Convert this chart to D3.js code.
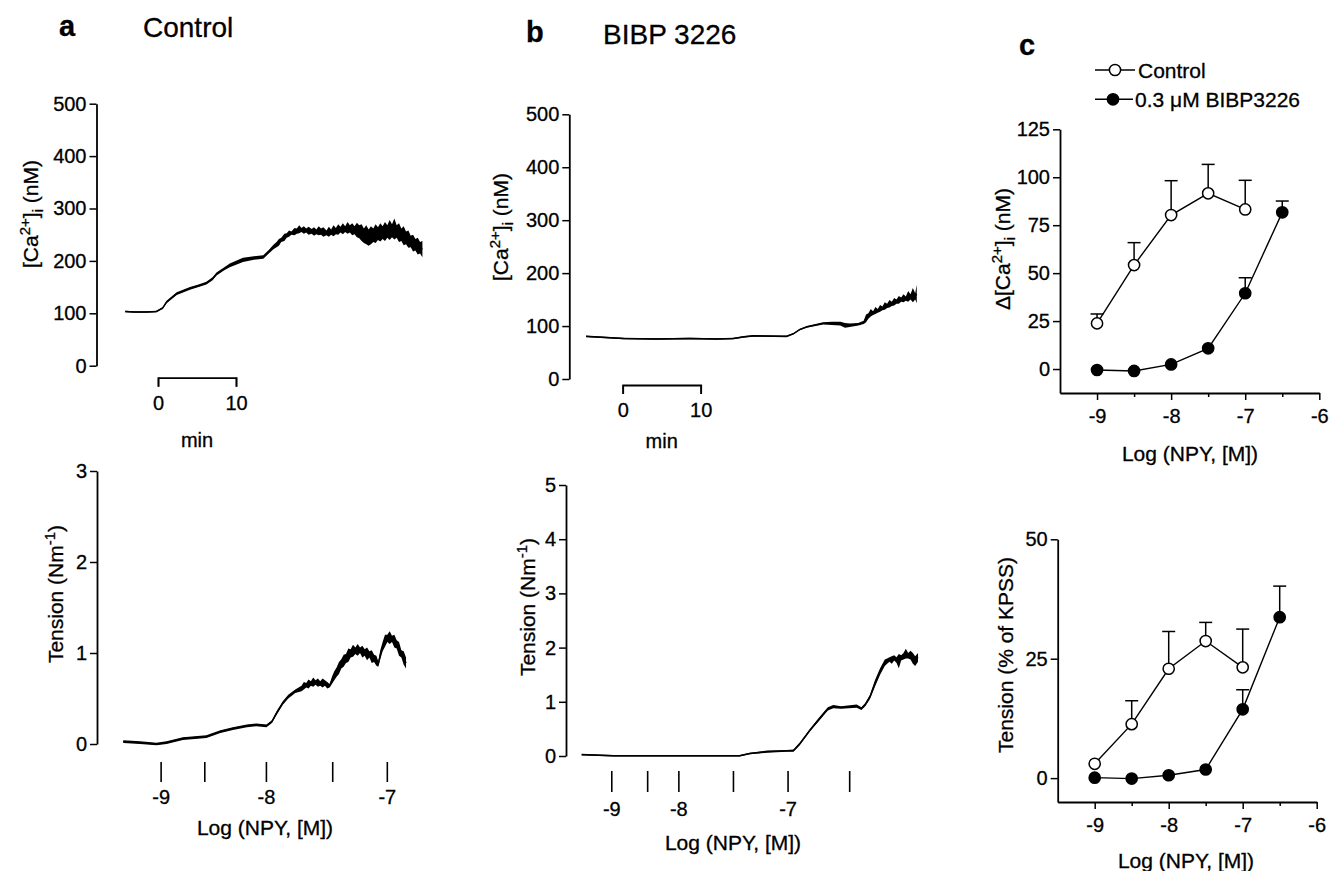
<!DOCTYPE html>
<html><head><meta charset="utf-8">
<script src="https://cdn.jsdelivr.net/npm/d3@7"></script>
<style>
html,body{margin:0;padding:0;background:#fff;}
svg{display:block;}
svg text{stroke:#000;stroke-width:0.3px;}
</style></head><body>
<svg id="fig" width="1329" height="871"></svg>
<script>
// ================= DATA =================
// Traces: [time (min, 0 = first NPY addition), lower noise envelope, upper noise envelope]
const caTraceA = [[-4.2,102,105],[-3.0,101,104],[-1.5,101,104],[-0.2,102,105],[0.6,108,112],[1.1,119,124],[2.4,135,140],[4.1,145,150],[5.2,150,155],[6.2,155,160],[7.0,163,169],[7.5,172,178],[8.5,182,188],[9.2,188,195],[10.9,198,206],[12.3,202,209],[13.5,204,211],[14.2,214,221],
 [14.8,222,231],[15.2,226,236],[15.5,229,242],[15.8,236,244],[16.2,238,252],[16.5,244,253],[16.8,246,258],[17.1,250,256],[17.5,249,263],[17.8,252,262],[18.1,253,268],[18.4,255,263],[18.7,252,266],[19.0,254,262],[19.3,250,265],[19.7,252,261],[20.0,248,264],[20.3,251,260],[20.6,249,266],[20.9,250,262],[21.2,246,264],[21.6,249,258],[21.9,246,265],[22.2,250,260],[22.5,247,268],[22.8,251,263],[23.1,250,270],[23.4,254,265],[23.7,251,272],[24.0,255,266],[24.3,252,274],[24.6,254,268],[24.9,249,272],[25.2,251,266],[25.5,245,273],[25.8,243,268],[26.1,238,270],[26.4,234,262],[26.7,232,268],[27.0,229,260],[27.3,232,266],[27.6,236,262],[27.9,234,270],[28.2,240,264],[28.5,237,272],[28.8,242,266],[29.1,238,274],[29.4,244,268],[29.7,240,278],[30.0,245,270],[30.3,241,281],[30.6,244,268],[30.9,236,272],[31.2,238,262],[31.5,230,266],[31.8,232,256],[32.1,225,258],[32.4,226,248],[32.7,218,250],[33.0,220,242],[33.3,212,244],[33.6,214,236],[33.9,207,238]];
const tensionTraceA = [[-4.45,0.01,0.04],[-2.3,0.0,0.03],[-0.2,-0.015,0.015],[1.1,0.0,0.03],[3.2,0.045,0.075],[6.2,0.065,0.095],[8.0,0.12,0.15],[9.6,0.155,0.185],[11.4,0.185,0.215],[12.6,0.195,0.225],[13.9,0.185,0.215],[14.6,0.23,0.26],[15.2,0.32,0.36],[16.0,0.43,0.47],[16.7,0.5,0.54],[17.6,0.56,0.6],
 [18.4,0.58,0.64],[18.7,0.6,0.68],[19.0,0.62,0.67],[19.3,0.61,0.71],[19.6,0.64,0.69],[19.9,0.63,0.73],[20.2,0.65,0.7],[20.5,0.63,0.72],[20.8,0.64,0.69],[21.1,0.62,0.72],[21.4,0.64,0.7],[21.7,0.61,0.68],[22.0,0.62,0.66],[22.3,0.66,0.74],[22.6,0.7,0.8],[22.9,0.74,0.84],[23.2,0.77,0.9],[23.5,0.83,0.93],[23.8,0.85,0.98],[24.1,0.89,0.99],[24.4,0.9,1.05],[24.7,0.95,1.04],[25.0,0.96,1.09],[25.3,0.99,1.06],[25.6,0.97,1.1],[25.9,1.0,1.06],[26.2,0.95,1.08],[26.5,0.97,1.04],[26.8,0.92,1.06],[27.1,0.95,1.02],[27.4,0.89,1.03],[27.7,0.9,0.98],[28.0,0.86,0.97],[28.24,0.85,0.91],[28.5,0.93,1.03],[28.8,1.02,1.12],[29.1,1.07,1.2],[29.4,1.12,1.2],[29.7,1.1,1.24],[30.0,1.12,1.19],[30.3,1.06,1.2],[30.6,1.05,1.14],[30.9,0.97,1.12],[31.2,0.95,1.03],[31.5,0.87,1.02],[31.8,0.83,0.95]];
const npyMarksA = [0.4, 6.0, 13.9, 22.4, 29.4];
const npyLabelsA = ["-9", "", "-8", "", "-7"];

const caTraceB = [[-4.7,79,82],[0.1,75,78],[4.4,74,77],[8.6,75,78],[12.0,74,77],[14.2,75,78],[15.5,78,81],[16.7,80,83],[21.0,79,82],[21.9,84,87],[22.7,92,95],[23.6,97,100],[25.7,103,107],[26.8,102,108],[27.9,101,108],[28.5,97,106],[29.1,98,105],[30.2,101,106],
 [30.9,104,110],[31.2,107,122],[31.5,114,124],[31.8,118,132],[32.1,121,128],[32.4,123,136],[32.7,125,132],[33.0,127,140],[33.3,130,137],[33.6,131,145],[33.9,134,142],[34.2,135,149],[34.5,138,146],[34.8,139,153],[35.1,142,150],[35.4,142,157],[35.7,146,154],[36.0,145,160],[36.3,148,156],[36.6,146,166],[36.9,150,160],[37.2,145,172],[37.5,150,162],[37.7,143,178]];
const tensionTraceB = [[-5.26,0.01,0.04],[-1.2,-0.01,0.02],[6.5,-0.01,0.02],[15.0,-0.01,0.02],[16.3,0.03,0.06],[18.5,0.06,0.1],[21.0,0.08,0.11],[21.9,0.08,0.12],[22.7,0.2,0.25],[24.0,0.45,0.5],[25.0,0.62,0.68],[25.7,0.74,0.8],[26.3,0.84,0.9],[27.0,0.88,0.94],[28.0,0.87,0.92],[30.0,0.89,0.95],[30.6,0.85,0.9],[31.1,0.92,0.98],[31.7,1.05,1.13],[32.35,1.28,1.4],[33.0,1.5,1.62],
 [33.6,1.66,1.78],[33.9,1.7,1.8],[34.2,1.74,1.82],[34.5,1.7,1.84],[34.8,1.76,1.86],[35.1,1.72,1.82],[35.4,1.62,1.88],[35.7,1.76,1.86],[36.0,1.78,1.9],[36.3,1.8,1.98],[36.6,1.8,1.9],[36.9,1.78,1.94],[37.2,1.7,1.9],[37.5,1.66,1.84],[37.86,1.74,1.9]];
const npyMarksB = [-1.4, 3.2, 7.2, 14.2, 21.2, 29.1];
const npyLabelsB = ["-9", "", "-8", "", "-7", ""];

// Panel c: concentration-response (mean and SEM)
const logDose = [-9, -8.5, -8, -7.5, -7, -6.5];
const caControl = [23.8, 54.2, 80.3, 91.6, 83.2];
const caControlSem = [4.9, 11.7, 17.9, 15.1, 15.2];
const caBibp = [-0.5, -1.0, 2.4, 10.8, 39.5, 81.7];
const caBibpSem = [0, 0, 0, 0, 8.1, 5.9];
const tenControl = [3.0, 11.3, 22.9, 28.7, 23.2];
const tenControlSem = [0, 4.9, 7.8, 3.9, 8.0];
const tenBibp = [0.1, -0.1, 0.6, 1.8, 14.4, 33.7];
const tenBibpSem = [0, 0, 0, 0, 4.1, 6.5];

// Tick values
const caTicks = [0, 100, 200, 300, 400, 500];
const tensionTicksA = [0, 1, 2, 3];
const tensionTicksB = [0, 1, 2, 3, 4, 5];
const scaleBarTicks = [0, 10];
const caTicksC = [0, 25, 50, 75, 100, 125];
const tenTicksC = [0, 25, 50];
const logTicks = [-9, -8, -7, -6];
const logMinorTicks = [-8.5, -7.5, -6.5];

// ================= DRAWING =================
const FONT = '"Liberation Sans", Arial, Helvetica, sans-serif';
const svg = d3.select("#fig").attr("font-family", FONT);
const fmt = d => String(d);

function styleAxis(g, fs) {
  g.attr("font-family", FONT).attr("font-size", fs || 20);
  g.selectAll("path.domain").attr("stroke", "#000").attr("stroke-width", 1.8);
  g.selectAll(".tick line").attr("stroke", "#000").attr("stroke-width", 1.5);
  g.selectAll(".tick text").attr("fill", "#000");
}
function trace(data, x, y) {
  const g = svg.append("g");
  g.append("path").datum(data)
    .attr("d", d3.area().x(d => x(d[0])).y0(d => y(d[1])).y1(d => y(d[2])))
    .attr("fill", "#000");
  g.append("path").datum(data)
    .attr("d", d3.line().x(d => x(d[0])).y(d => y((d[1] + d[2]) / 2)))
    .attr("fill", "none").attr("stroke", "#000").attr("stroke-width", 1.4);
}
function rotLabel(x, y, parts, fs) {
  const t = svg.append("text").attr("transform", `translate(${x},${y}) rotate(-90)`)
    .attr("text-anchor", "middle").attr("font-size", fs).attr("fill", "#000");
  let cur = 0;
  parts.forEach(p => {
    const sh = p.s || 0;
    t.append("tspan").attr("dy", sh - cur).attr("font-size", p.f || fs).text(p.t);
    cur = sh;
  });
}
function text(x, y, s, fs, opts) {
  opts = opts || {};
  return svg.append("text").attr("x", x).attr("y", y).attr("font-size", fs)
    .attr("font-weight", opts.bold ? "bold" : "normal")
    .attr("text-anchor", opts.anchor || "start").attr("fill", "#000").text(s);
}
function markers(x, marks, labels, y1, y2, ly) {
  const g = svg.append("g");
  marks.forEach((m, i) => {
    g.append("line").attr("x1", x(m)).attr("x2", x(m)).attr("y1", y1).attr("y2", y2)
      .attr("stroke", "#000").attr("stroke-width", 1.6);
    if (labels[i]) text(x(m), ly, labels[i], 20, { anchor: "middle" });
  });
}
const caParts = (delta) => [
  { t: (delta ? "\u0394" : "") + "[Ca" }, { t: "2+", s: -8, f: 15 }, { t: "]" }, { t: "i", s: 5, f: 15 }, { t: " (nM)" }
];
const tensionParts = [{ t: "Tension (Nm" }, { t: "-1", s: -8, f: 15 }, { t: ")" }];

// ---------- Panel a ----------
text(59, 36, "a", 29, { bold: true });
text(143, 37, "Control", 28);

const xA = d3.scaleLinear().domain([0, 10]).range([158, 236]);
const yCaA = d3.scaleLinear().domain([0, 500]).range([365.7, 103.7]);
svg.append("g").attr("transform", "translate(96.5,0)")
  .call(d3.axisLeft(yCaA).tickValues(caTicks).tickSize(7).tickPadding(3).tickSizeOuter(0).tickFormat(fmt)).call(styleAxis);
trace(caTraceA, xA, yCaA);
svg.append("g").attr("transform", "translate(0,377.7)")
  .call(d3.axisBottom(xA).tickValues(scaleBarTicks).tickSize(9).tickPadding(9).tickFormat(fmt)).call(styleAxis);
text(xA(5), 447, "min", 20, { anchor: "middle" });
rotLabel(38, 214, caParts(false), 21);

const yTenA = d3.scaleLinear().domain([0, 3]).range([744, 471]);
svg.append("g").attr("transform", "translate(97,0)")
  .call(d3.axisLeft(yTenA).tickValues(tensionTicksA).tickSize(7).tickPadding(3).tickSizeOuter(0).tickFormat(fmt)).call(styleAxis);
trace(tensionTraceA, xA, yTenA);
markers(xA, npyMarksA, npyLabelsA, 762, 782, 804);
text(265, 835, "Log (NPY, [M])", 21, { anchor: "middle" });
rotLabel(63, 594, tensionParts, 21);

// ---------- Panel b ----------
text(526, 42, "b", 29, { bold: true });
text(603, 44, "BIBP 3226", 28);

const xB = d3.scaleLinear().domain([0, 10]).range([622.7, 700.7]);
const yCaB = d3.scaleLinear().domain([0, 500]).range([379, 114.3]);
svg.append("g").attr("transform", "translate(569.3,0)")
  .call(d3.axisLeft(yCaB).tickValues(caTicks).tickSize(7).tickPadding(3).tickSizeOuter(0).tickFormat(fmt)).call(styleAxis);
trace(caTraceB, xB, yCaB);
svg.append("g").attr("transform", "translate(0,385)")
  .call(d3.axisBottom(xB).tickValues(scaleBarTicks).tickSize(9).tickPadding(9).tickFormat(fmt)).call(styleAxis);
text(xB(5), 448, "min", 20, { anchor: "middle" });
rotLabel(508, 227, caParts(false), 21);

const yTenB = d3.scaleLinear().domain([0, 5]).range([756, 485]);
svg.append("g").attr("transform", "translate(566,0)")
  .call(d3.axisLeft(yTenB).tickValues(tensionTicksB).tickSize(7).tickPadding(3).tickSizeOuter(0).tickFormat(fmt)).call(styleAxis);
trace(tensionTraceB, xB, yTenB);
markers(xB, npyMarksB, npyLabelsB, 771, 792, 816);
text(733, 850, "Log (NPY, [M])", 21, { anchor: "middle" });
rotLabel(535, 607, tensionParts, 21);

// ---------- Panel c ----------
text(1019, 55, "c", 29, { bold: true });
// legend
svg.append("line").attr("x1", 1095).attr("x2", 1135).attr("y1", 70).attr("y2", 70).attr("stroke", "#000").attr("stroke-width", 1.4);
svg.append("circle").attr("cx", 1115).attr("cy", 70).attr("r", 5.6).attr("fill", "#fff").attr("stroke", "#000").attr("stroke-width", 1.5);
text(1138, 77.5, "Control", 21);
svg.append("line").attr("x1", 1095).attr("x2", 1133).attr("y1", 99.3).attr("y2", 99.3).attr("stroke", "#000").attr("stroke-width", 1.4);
svg.append("circle").attr("cx", 1113).attr("cy", 99.3).attr("r", 5.6).attr("fill", "#000").attr("stroke", "#000").attr("stroke-width", 1.5);
text(1135, 107, "0.3 \u03bcM BIBP3226", 21);

function crPanel(x, y, xAxisY, yAxisX, yTicks, sets) {
  svg.append("g").attr("transform", `translate(${yAxisX},0)`)
    .call(d3.axisLeft(y).tickValues(yTicks).tickSize(7).tickPadding(3).tickSizeOuter(0).tickFormat(fmt)).call(styleAxis);
  svg.append("g").attr("transform", `translate(0,${xAxisY})`)
    .call(d3.axisBottom(x).tickValues(logTicks).tickSize(7).tickPadding(9).tickSizeOuter(0).tickFormat(fmt)).call(styleAxis);
  const mg = svg.append("g").attr("transform", `translate(0,${xAxisY})`)
    .call(d3.axisBottom(x).tickValues(logMinorTicks).tickSize(4).tickFormat(() => "")).call(styleAxis);
  mg.select("path.domain").remove();
  const g = svg.append("g");
  sets.forEach(s => {
    const pts = s.vals.map((v, i) => ({ d: logDose[i], v: v, e: s.sem[i] }));
    g.append("path").datum(pts).attr("d", d3.line().x(d => x(d.d)).y(d => y(d.v)))
      .attr("fill", "none").attr("stroke", "#000").attr("stroke-width", 1.4);
    pts.filter(d => d.e > 0).forEach(d => {
      g.append("line").attr("x1", x(d.d)).attr("x2", x(d.d)).attr("y1", y(d.v)).attr("y2", y(d.v + d.e))
        .attr("stroke", "#000").attr("stroke-width", 1.5);
      g.append("line").attr("x1", x(d.d) - 6.5).attr("x2", x(d.d) + 6.5).attr("y1", y(d.v + d.e)).attr("y2", y(d.v + d.e))
        .attr("stroke", "#000").attr("stroke-width", 1.5);
    });
  });
  sets.forEach(s => {
    const pts = s.vals.map((v, i) => ({ d: logDose[i], v: v }));
    g.append("g").selectAll("circle").data(pts).join("circle")
      .attr("cx", d => x(d.d)).attr("cy", d => y(d.v)).attr("r", 5.6)
      .attr("fill", s.filled ? "#000" : "#fff").attr("stroke", "#000").attr("stroke-width", 1.5);
  });
}

const xC1 = d3.scaleLinear().domain([-9.5, -6]).range([1060, 1319.3]);
const yC1 = d3.scaleLinear().domain([-12.5, 125]).range([393, 129.3]);
crPanel(xC1, yC1, 393, 1060, caTicksC, [
  { vals: caControl, sem: caControlSem, filled: false },
  { vals: caBibp, sem: caBibpSem, filled: true }
]);
text(1190, 461, "Log (NPY, [M])", 21, { anchor: "middle" });
rotLabel(1010, 249, caParts(true), 21);

const xC2 = d3.scaleLinear().domain([-9.5, -6]).range([1057.7, 1316.7]);
const yC2 = d3.scaleLinear().domain([-5, 50]).range([802, 539.3]);
crPanel(xC2, yC2, 802, 1057.7, tenTicksC, [
  { vals: tenControl, sem: tenControlSem, filled: false },
  { vals: tenBibp, sem: tenBibpSem, filled: true }
]);
text(1186, 868, "Log (NPY, [M])", 21, { anchor: "middle" });
rotLabel(1013, 655, [{ t: "Tension (% of KPSS)" }], 21);
</script>
</body></html>
